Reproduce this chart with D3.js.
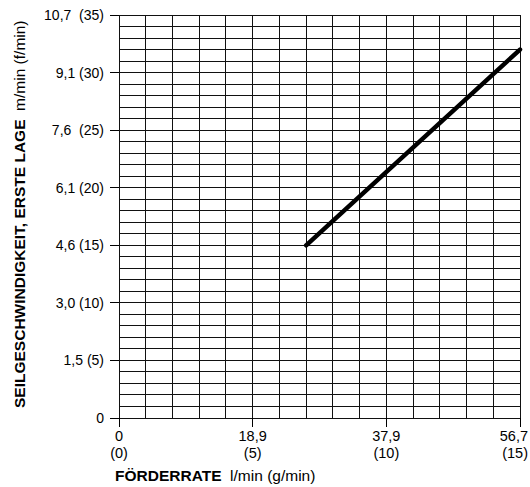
<!DOCTYPE html>
<html lang="de">
<head>
<meta charset="UTF-8">
<title>Seilgeschwindigkeit</title>
<script src="https://d3js.org/d3.v7.min.js"></script>
<style>
  body { margin: 0; background: #fff; }
  text { font-family: "Liberation Sans", Arial, sans-serif; fill: #000; }
</style>
</head>
<body>
<svg width="530" height="487"></svg>
<script>
// flow rate in g/min, rope speed in f/min
const flowGpm = [7, 15];
const speedFpm = [15, 32];

const yTickValues = [0, 5, 10, 15, 20, 25, 30, 35];
const yTickLabels = ["0", "1,5 (5)", "3,0 (10)", "4,6 (15)", "6,1 (20)", "7,6  (25)", "9,1 (30)", "10,7  (35)"];
const xTickValues = [0, 5, 10, 15];
const xTickMetric = ["0", "18,9", "37,9", "56,7"];
const xTickImperial = ["(0)", "(5)", "(10)", "(15)"];

const width = 530, height = 487;
const margin = { left: 119, right: 10, top: 15, bottom: 69 };

const svg = d3.select("svg");

const x = d3.scaleLinear().domain([0, 15]).range([margin.left, width - margin.right]);
const y = d3.scaleLinear().domain([0, 35]).range([height - margin.bottom, margin.top]);

// grid, one line per g/min and per f/min
const grid = svg.append("g").attr("shape-rendering", "crispEdges");
grid.selectAll("line.v")
    .data(d3.range(0, 16))
    .enter().append("line")
    .attr("x1", d => x(d)).attr("x2", d => x(d))
    .attr("y1", y(0)).attr("y2", y(35))
    .attr("stroke", "#111").attr("stroke-width", 1);
grid.selectAll("line.h")
    .data(d3.range(0, 36))
    .enter().append("line")
    .attr("y1", d => y(d)).attr("y2", d => y(d))
    .attr("x1", x(0)).attr("x2", x(15))
    .attr("stroke", "#111").attr("stroke-width", 1);

// y axis ticks + labels
svg.append("g").attr("shape-rendering", "crispEdges")
    .selectAll("line")
    .data(yTickValues)
    .enter().append("line")
    .attr("x1", x(0) - 9).attr("x2", x(0))
    .attr("y1", d => y(d)).attr("y2", d => y(d))
    .attr("stroke", "#000");
svg.selectAll("text.ytick")
    .data(yTickValues)
    .enter().append("text")
    .attr("class", "ytick")
    .attr("x", x(0) - 15)
    .attr("y", d => y(d) + 5)
    .attr("text-anchor", "end")
    .style("font-size", "14px")
    .style("white-space", "pre")
    .text((d, i) => yTickLabels[i]);

// x axis ticks + labels (last one pulled in so it stays on the page)
svg.append("g").attr("shape-rendering", "crispEdges")
    .selectAll("line")
    .data(xTickValues)
    .enter().append("line")
    .attr("x1", d => x(d)).attr("x2", d => x(d))
    .attr("y1", y(0)).attr("y2", y(0) + 9)
    .attr("stroke", "#000");
const last = xTickValues.length - 1;
const xl = svg.selectAll("text.xtick")
    .data(xTickValues)
    .enter().append("text")
    .attr("class", "xtick")
    .attr("text-anchor", (d, i) => i === last ? "end" : "middle")
    .style("font-size", "14.5px");
const lx = (d, i) => i === last ? width - 2 : x(d);
xl.append("tspan").attr("x", lx).attr("y", y(0) + 23).text((d, i) => xTickMetric[i]);
xl.append("tspan").attr("x", lx).attr("y", y(0) + 40).text((d, i) => xTickImperial[i]);

// axis titles
const xt = svg.append("text")
    .attr("x", 115).attr("y", 481)
    .style("font-size", "15.5px")
    .style("white-space", "pre");
xt.append("tspan").style("font-weight", "bold").text("FÖRDERRATE");
xt.append("tspan").text("  l/min (g/min)");

const yt = svg.append("text")
    .attr("transform", "translate(25,408) rotate(-90)")
    .style("font-size", "15.5px")
    .style("white-space", "pre");
yt.append("tspan").style("font-weight", "bold").text("SEILGESCHWINDIGKEIT, ERSTE LAGE");
yt.append("tspan").text("  m/min (f/min)");

// data line
const line = d3.line().x(d => x(d[0])).y(d => y(d[1]));
svg.append("path")
    .datum(d3.zip(flowGpm, speedFpm))
    .attr("d", line)
    .attr("fill", "none")
    .attr("stroke", "#000")
    .attr("stroke-width", 4.5)
    .attr("stroke-linecap", "round");
</script>
</body>
</html>
